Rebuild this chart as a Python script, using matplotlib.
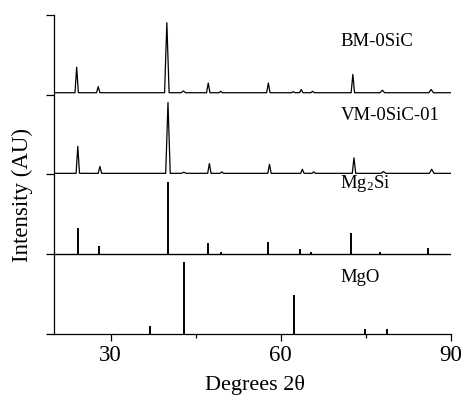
import numpy as np
import matplotlib.pyplot as plt

plt.rcParams['font.family'] = ['Liberation Serif', 'DejaVu Serif']
plt.rcParams['mathtext.fontset'] = 'custom'
plt.rcParams['mathtext.rm'] = 'Liberation Serif'
plt.rcParams['mathtext.default'] = 'regular'

# --- traced patterns (2theta in degrees, relative intensity, strongest peak = 100) ---
bm_2theta = [20, 23.7, 24.0, 24.3, 27.5, 27.8, 28.1, 39.5, 39.9, 40.3,
             42.4, 42.8, 43.2, 46.9, 47.2, 47.5, 49.1, 49.4, 49.7, 57.5,
             57.8, 58.1, 61.9, 62.2, 62.5, 63.3, 63.6, 63.9, 65.3, 65.6,
             65.9, 72.4, 72.7, 73.0, 77.5, 77.9, 78.3, 86.1, 86.5, 86.9, 90]
bm_counts = [2.5, 2.5, 38, 2.5, 2.5, 11, 2.5, 2.5, 100, 2.5,
             2.5, 5, 2.5, 2.5, 16, 2.5, 2.5, 4.5, 2.5, 2.5,
             16, 2.5, 2.5, 4, 2.5, 2.5, 7, 2.5, 2.5, 4.5,
             2.5, 2.5, 28, 2.5, 2.5, 6, 2.5, 2.5, 7, 2.5, 2.5]

vm_2theta = [20, 23.9, 24.2, 24.5, 27.8, 28.1, 28.4, 39.7, 40.1, 40.5,
             42.5, 42.9, 43.3, 47.1, 47.4, 47.7, 49.3, 49.6, 49.9, 57.7,
             58.0, 58.3, 63.5, 63.8, 64.1, 65.5, 65.8, 66.1, 72.6, 72.9,
             73.2, 77.7, 78.1, 78.5, 86.2, 86.6, 87.0, 90]
vm_counts = [1.4, 1.4, 39, 1.4, 1.4, 11, 1.4, 1.4, 100, 1.4,
             1.4, 3, 1.4, 1.4, 15, 1.4, 1.4, 3.5, 1.4, 1.4,
             14, 1.4, 1.4, 7, 1.4, 1.4, 3.5, 1.4, 1.4, 23,
             1.4, 1.4, 4, 1.4, 1.4, 7, 1.4, 1.4]

# reference stick patterns
mg2si_2theta = [24.2, 27.9, 40.1, 47.2, 49.4, 57.7, 63.4, 65.3, 72.4, 77.5, 85.9]
mg2si_int = [37, 11, 100, 16, 3, 17, 6.5, 3.5, 30, 3.5, 9]

mgo_2theta = [36.9, 42.9, 62.35, 74.8, 78.7]
mgo_int = [11.5, 100, 54, 7, 7]

labels = ['BM-0SiC', 'VM-0SiC-01', 'Mg$_2$Si', 'MgO']

scale = 0.009  # relative intensity -> panel height

fig = plt.figure(figsize=(4.63, 3.96), dpi=100)
ax = fig.add_axes([0.1166, 0.1566, 0.8574, 0.8063])

ax.plot(bm_2theta, 3 + scale * np.array(bm_counts), color='black', lw=0.9)
ax.plot(vm_2theta, 2 + scale * np.array(vm_counts), color='black', lw=0.9)

ax.vlines(mg2si_2theta, 1, 1 + scale * np.array(mg2si_int), color='black', lw=1.4)
ax.axhline(1, color='black', lw=1.0)
ax.vlines(mgo_2theta, 0, scale * np.array(mgo_int), color='black', lw=1.4)

label_y = [3.67, 2.74, 1.89, 0.71]
for txt, yy in zip(labels, label_y):
    ax.text(70.5, yy, txt, fontsize=13.5, va='center', ha='left')

ax.set_xlim(20, 90)
ax.set_ylim(0, 4)
ax.set_xticks([30, 60, 90])
ax.set_xticks([45, 75], minor=True)
ax.set_yticks([0, 1, 2, 3, 4])
ax.set_yticklabels([])
ax.tick_params(axis='x', which='major', length=5, width=0.9, labelsize=16.5, pad=3)
ax.tick_params(axis='x', which='minor', length=3, width=0.9)
ax.tick_params(axis='y', which='major', length=6, width=0.9)

for side in ['top', 'right']:
    ax.spines[side].set_visible(False)
for side in ['left', 'bottom']:
    ax.spines[side].set_linewidth(0.9)

ax.set_xlabel('Degrees 2θ', fontsize=16)
ax.set_ylabel('Intensity (AU)', fontsize=16.5)
ax.xaxis.set_label_coords(0.506, -0.128)
ax.yaxis.set_label_coords(-0.053, 0.435)

fig.savefig('out.png', dpi=100)
